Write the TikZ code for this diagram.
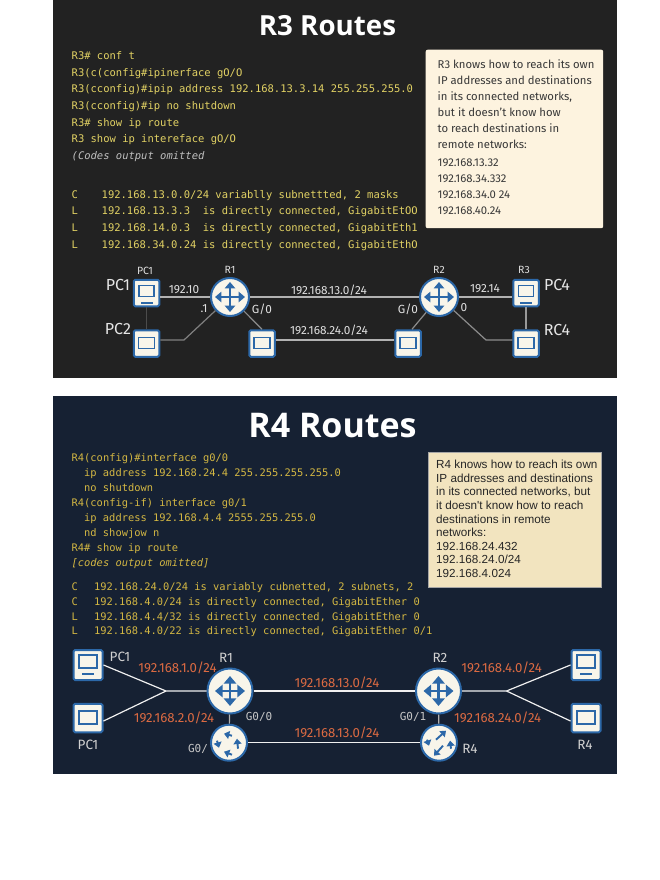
\documentclass[tikz,border=0pt]{standalone}
\usepackage{fontspec}
\setmainfont{Fira Sans}
\newfontfamily\codefont{DejaVu Sans Mono}
\newfontfamily\boxfont{Liberation Sans}
\newfontfamily\titlefont{Open Sans}
\usetikzlibrary{arrows.meta}
\definecolor{darkbg}{HTML}{222222}
\definecolor{navybg}{HTML}{162133}
\definecolor{iconblue}{HTML}{2C68A8}
\definecolor{iconfill}{HTML}{F8F5EA}
\definecolor{codeyellow}{HTML}{E2D264}
\definecolor{codegold}{HTML}{D3B743}
\definecolor{netorange}{HTML}{DB6A42}
\definecolor{notelight}{HTML}{FDF3DF}
\definecolor{notetan}{HTML}{F2E4BF}
\tikzset{
  panel/.style = {fill, anchor = north west, minimum width = 564, minimum height = 378, inner sep = 0},
  title/.style = {text = white, font = \titlefont\fontsize{#1}{#1}\selectfont\bfseries, inner sep = 0},
  code/.style = {anchor = west, inner sep = 0, text height = 9.5, text depth = 2, text = codeyellow,
    font = \codefont\fontsize{10.5}{12}\selectfont},
  codeb/.style = {code, text = codegold, font = \codefont\fontsize{10.4}{12}\selectfont},
  lab/.style = {inner sep = 0, text = #1, font = \fontsize{11.8}{13}\selectfont},
  lab/.default = white!88!black,
  toplab/.style = {inner sep = 0, text = white!88!black, font = \fontsize{10.5}{12}\selectfont},
  biglab/.style = {inner sep = 0, text = white!90!black, font = \fontsize{16}{18}\selectfont},
  sublab/.style = {inner sep = 0, text = white!82!black, font = \fontsize{13.5}{15}\selectfont},
  monolab/.style = {inner sep = 0, text = white!78!black, font = \codefont\fontsize{11}{13}\selectfont},
  netlab/.style = {inner sep = 0, text = netorange, font = \fontsize{13.2}{15}\selectfont},
  link/.style = {draw = white!#1!black, line width = 1.2},
  tip/.style = {{Triangle[width = 0pt 4.2, length = 0pt 2.6]}-{Triangle[width = 0pt 4.2, length = 0pt 2.6]}},
  tipb/.style = {-{Triangle[width = 0pt 4.2, length = 0pt 2.8]}},
  router/.style = {circle, draw = iconblue, fill = iconfill, line width = 2, inner sep = 0, minimum size = #1,
    path picture = {
      \begin{scope}[shift = {(path picture bounding box.center)}, scale = #1/40, iconblue, line width = #1*0.065]
        \draw [tip] (-15, 0) -- (15, 0);
        \draw [tip] (0, -15) -- (0, 15);
      \end{scope}}},
  huba/.style = {circle, draw = iconblue, fill = iconfill, line width = 2, inner sep = 0, minimum size = 36,
    path picture = {
      \begin{scope}[shift = {(path picture bounding box.center)}, iconblue, line width = 1.9]
        \draw [tipb] (3, -7) -- (-5, -9);
        \draw [tipb] (9, 6) -- (8, -4);
        \draw [tipb] (3, 12) -- (-5, 9);
        \draw [tipb] (-12, -2) -- (-10, 5);
      \end{scope}}},
  hubb/.style = {circle, draw = iconblue, fill = iconfill, line width = 2, inner sep = 0, minimum size = 36,
    path picture = {
      \begin{scope}[shift = {(path picture bounding box.center)}, iconblue, line width = 1.9]
        \draw [tipb] (-3, -3) -- (7, -12);
        \draw [tipb] (4, 3) -- (-5, 13);
        \draw [tipb] (-12, -3) -- (-10, 3);
        \draw [tipb] (12, 6) -- (11, -2);
      \end{scope}}},
  pcbox/.style = {draw = iconblue, fill = iconfill, line width = 2, rounded corners = 1.5, inner sep = 0,
    minimum width = 25.5, minimum height = 26.5},
  screen/.style = {draw = iconblue, line width = 1.3, inner sep = 0, minimum width = #1, minimum height = #1 * 0.72},
  bar/.style = {fill = iconblue, inner sep = 0, minimum width = 12, minimum height = 2},
  notetext/.style = {anchor = north west, inner sep = 0, align = left},
}
\begin{document}
\begin{tikzpicture}[x = 1pt, y = -1pt]

  \useasboundingbox (0, 0) rectangle (660, 880);

  % top slide
  \node [panel, darkbg] (paneltop) at (53, 0) {};
  \node [title = 27.7] (titletop) at (327.5, 26) {R3 Routes};

  \node [code] (c1) at (71.5, 55.7) {R3\# conf t};
  \node [code] (c2) at (71.5, 72.3) {R3(c(config\#ipinerface gO/O};
  \node [code] (c3) at (71.5, 89) {R3(cconfig)\#ipip address 192.168.13.3.14 255.255.255.0};
  \node [code] (c4) at (71.5, 105.7) {R3(cconfig)\#ip no shutdown};
  \node [code] (c5) at (71.5, 122.3) {R3\# show ip route};
  \node [code] (c6) at (71.5, 139) {R3 show ip intereface gO/O};
  \node [code, text = white!75!black, font = \codefont\itshape\fontsize{10.5}{12}\selectfont] (c7) at (71.5, 155.7) {(Codes output omitted};

  \node [code] (k1) at (71.5, 194.3) {C};
  \node [code] (k2) at (71.5, 211) {L};
  \node [code] (k3) at (71.5, 227.7) {L};
  \node [code] (k4) at (71.5, 244.3) {L};
  \node [code] (r1) at (101.5, 194.3) {192.168.13.0.0/24 variablly subnettted, 2 masks};
  \node [code] (r2) at (101.5, 211) {192.168.13.3.3\ \ is directly connected, GigabitEtOO};
  \node [code] (r3) at (101.5, 227.7) {192.168.14.0.3\ \ is directly connected, GigabitEth1};
  \node [code] (r4) at (101.5, 244.3) {192.168.34.0.24 is directly connected, GigabitEthO};

  \node [fill = notelight, rounded corners = 2, anchor = north west, inner sep = 0,
    minimum width = 177.5, minimum height = 178.5] (notetop) at (425.5, 49.5) {};
  \node [notetext, text = black!78, font = \fontsize{11.3}{16}\selectfont] (texttop) at (437.5, 59.5) {R3 knows how to reach its own\\
    IP addresses and destinations\\
    in its connected networks,\\
    but it doesn't know how\\
    to reach destinations in\\
    remote networks:\\[2pt]
    192.168.13.32\\
    192.168.34.332\\
    192.168.34.0 24\\
    192.168.40.24};

  % top network
  \node [router = 38] (ra) at (230, 297) {};
  \node [router = 38] (rb) at (439, 297) {};
  \node [pcbox] (pca) at (146.5, 293) {};
  \node [pcbox] (pcb) at (146.5, 343.5) {};
  \node [pcbox] (swa) at (262, 343.5) {};
  \node [pcbox] (swb) at (408, 343.5) {};
  \node [pcbox] (pcc) at (526, 293) {};
  \node [pcbox] (pcd) at (526, 343.5) {};
  \node [screen = 15] (sa) at (146.5, 291) {};
  \node [bar] (ba) at (146.5, 302.5) {};
  \node [screen = 16] (sb) at (146.5, 343) {};
  \node [screen = 16] (sc) at (262, 343) {};
  \node [screen = 16] (sd) at (408, 343) {};
  \node [screen = 15] (se) at (526, 291) {};
  \node [bar] (bc) at (526, 302.5) {};
  \node [screen = 16] (sf) at (526, 343) {};
  \coordinate (elba) at (184, 340);
  \coordinate (elbb) at (486, 340);

  \draw [link = 70] (pca.east |- ra) -- (ra);
  \draw [link = 30] (pca) -- (pcb);
  \draw [link = 50] ([yshift = 3.5pt]pcb.east) -- (elba) -- (ra);
  \draw [link = 55] (ra) -- (swa.north);
  \draw [link = 70] (ra) -- (rb);
  \draw [link = 70] ([yshift = 3.5pt]swa.east) -- ([yshift = 3.5pt]swb.west);
  \draw [link = 55] (rb) -- ([xshift = 4pt]swb.north);
  \draw [link = 70] (rb) -- (pcc.west |- rb);
  \draw [link = 55] (rb) -- (elbb) -- ([yshift = 3.5pt]pcd.west);
  \draw [link = 60] (pcc) -- (pcd);

  \node [toplab] (la) at (145, 271) {PC1};
  \node [biglab] (lb) at (118, 285) {PC1};
  \node [biglab] (lc) at (118, 329) {PC2};
  \node [toplab] (ld) at (230, 270) {R1};
  \node [lab] (le) at (184, 290) {192.10};
  \node [lab] (lf) at (204, 309) {.1};
  \node [lab] (lg) at (262, 309) {G/0};
  \node [lab] (lh) at (329, 290) {192.168.13.0/24};
  \node [lab] (li) at (329, 330) {192.168.24.0/24};
  \node [toplab] (lj) at (439, 270) {R2};
  \node [lab] (lk) at (408, 309) {G/0};
  \node [lab] (ll) at (464, 308) {0};
  \node [lab] (lm) at (485, 289) {192.14};
  \node [toplab] (ln) at (524, 270) {R3};
  \node [biglab] (lo) at (557, 285) {PC4};
  \node [biglab] (lp) at (557, 330) {RC4};

  % bottom slide
  \node [panel, navybg] (panelbot) at (53, 396) {};
  \node [title = 34] (titlebot) at (332.5, 426) {R4 Routes};

  \node [codeb] (d1) at (71.5, 457.7) {R4(config)\#interface g0/0};
  \node [codeb] (d2) at (84, 473) {ip address 192.168.24.4 255.255.255.255.0};
  \node [codeb] (d3) at (84, 488) {no shutdown};
  \node [codeb] (d4) at (71.5, 503) {R4(config-if) interface g0/1};
  \node [codeb] (d5) at (84, 518) {ip address 192.168.4.4 2555.255.255.0};
  \node [codeb] (d6) at (84, 533) {nd showjow n};
  \node [codeb] (d7) at (71.5, 548) {R4\# show ip route};
  \node [codeb, font = \codefont\itshape\fontsize{10.4}{12}\selectfont] (d8) at (71.5, 563) {[codes output omitted]};

  \node [codeb] (m1) at (71.5, 586.7) {C};
  \node [codeb] (m2) at (71.5, 601.5) {C};
  \node [codeb] (m3) at (71.5, 616.3) {L};
  \node [codeb] (m4) at (71.5, 631) {L};
  \node [codeb] (s1) at (94, 586.7) {192.168.24.0/24 is variably cubnetted, 2 subnets, 2};
  \node [codeb] (s2) at (94, 601.5) {192.168.4.0/24 is directly connected, GigabitEther 0};
  \node [codeb] (s3) at (94, 616.3) {192.168.4.4/32 is directly connected, GigabitEther 0};
  \node [codeb] (s4) at (94, 631) {192.168.4.0/22 is directly connected, GigabitEther 0/1};

  \node [fill = notetan, draw = black!35, line width = 0.4, anchor = north west, inner sep = 0,
    minimum width = 173.5, minimum height = 135] (notebot) at (427.7, 452) {};
  \node [notetext, text = black!85, font = \boxfont\fontsize{11.7}{13.6}\selectfont] (textbot) at (436, 460) {R4 knows how to reach its own\\
    IP addresses and destinations\\
    in its connected networks, but\\
    it doesn't know how to reach\\
    destinations in remote\\
    networks:\\
    192.168.24.432\\
    192.168.24.0/24\\
    192.168.4.024};

  % bottom network
  \node [router = 45] (rc) at (230, 691) {};
  \node [router = 45] (rd) at (438.5, 691) {};
  \node [huba] (he) at (229, 742.7) {};
  \node [hubb] (hf) at (439, 742.7) {};
  \node [pcbox, minimum width = 29, minimum height = 30] (pce) at (88, 665) {};
  \node [pcbox, minimum width = 29, minimum height = 28.5] (pcf) at (88, 718) {};
  \node [pcbox, minimum width = 29, minimum height = 30] (pcg) at (586, 665) {};
  \node [pcbox, minimum width = 29, minimum height = 28.5] (pch) at (586, 718) {};
  \node [screen = 18] (sg) at (88, 661.5) {};
  \node [bar] (bg) at (88, 673.5) {};
  \node [screen = 18] (sh) at (88, 717.5) {};
  \node [screen = 18] (si) at (586, 661.5) {};
  \node [bar] (bi) at (586, 673.5) {};
  \node [screen = 18] (sj) at (586, 717.5) {};
  \coordinate (elbc) at (166, 691);
  \coordinate (elbd) at (506.5, 691);

  \draw [link = 94] (pce.east) -- (elbc) -- (rc);
  \draw [link = 94] ([yshift = -3pt]pcf.east) -- (elbc);
  \draw [link = 94] (rc) -- (rd);
  \draw [link = 94] (rd) -- (elbd) -- (pcg.west);
  \draw [link = 94] (elbd) -- ([yshift = -3pt]pch.west);
  \draw [link = 70] (rc) -- (he);
  \draw [link = 70] (rd) -- (hf);
  \draw [link = 94] (he) -- (hf);

  \node [sublab] (na) at (120, 657) {PC1};
  \node [sublab] (nb) at (226, 658) {R1};
  \node [sublab] (nc) at (88, 745) {PC1};
  \node [monolab] (nd) at (259, 717) {G0/0};
  \node [monolab] (ne) at (198, 749) {G0/};
  \node [sublab] (nf) at (440, 658) {R2};
  \node [monolab] (ng) at (413, 717) {G0/1};
  \node [sublab] (nh) at (470, 749) {R4};
  \node [sublab] (ni) at (585, 745) {R4};

  \node [netlab] (oa) at (177.5, 668) {192.168.1.0/24};
  \node [netlab] (ob) at (174, 717.7) {192.168.2.0/24};
  \node [netlab] (oc) at (337, 682.5) {192.168.13.0/24};
  \node [netlab] (od) at (337, 733) {192.168.13.0/24};
  \node [netlab] (oe) at (501.7, 668) {192.168.4.0/24};
  \node [netlab] (of) at (497.7, 717.7) {192.168.24.0/24};

\end{tikzpicture}
\end{document}
